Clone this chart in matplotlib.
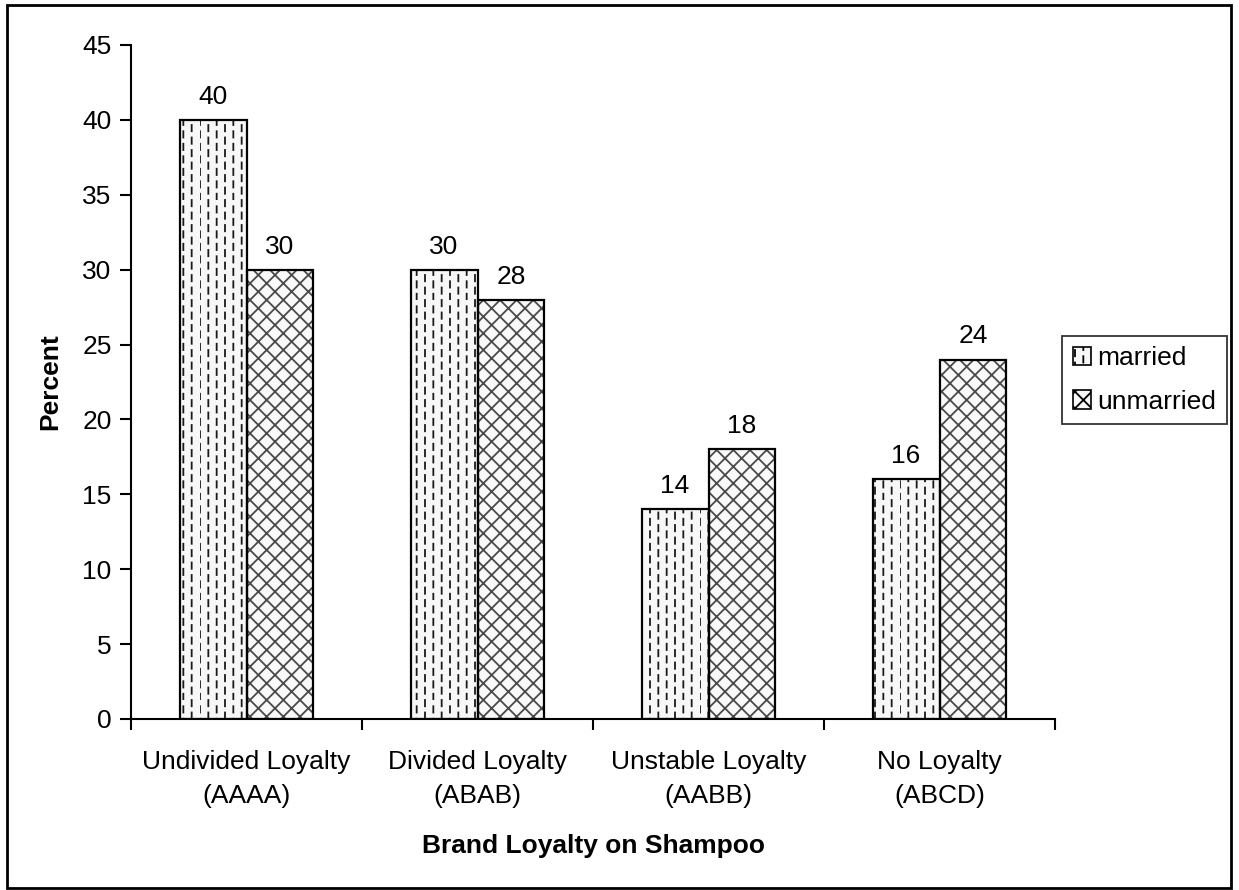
import numpy as np
import matplotlib
matplotlib.use("Agg")
import matplotlib.pyplot as plt
import matplotlib.hatch as mhatch
from matplotlib.path import Path
from matplotlib.patches import Rectangle, Patch

categories = ["Undivided Loyalty\n(AAAA)", "Divided Loyalty\n(ABAB)",
              "Unstable Loyalty\n(AABB)", "No Loyalty\n(ABCD)"]
married = [40, 30, 14, 16]
unmarried = [30, 28, 18, 24]
series_names = ["married", "unmarried"]
yticks = list(range(0, 50, 5))


class DashedVertical(mhatch.HatchPatternBase):
    """Vertical dashed hatch with staggered columns (used for '|')."""
    dashes_per_unit = 8
    dash_frac = 0.5

    def __init__(self, hatch, density):
        self.cols = int((hatch.count('|') + hatch.count('+')) * density)
        self.num_lines = self.cols * (self.dashes_per_unit + 1)
        self.num_vertices = self.num_lines * 2

    def set_vertices_and_codes(self, vertices, codes):
        if self.cols == 0:
            return
        period = 1.0 / self.dashes_per_unit
        dash = period * self.dash_frac
        k = 0
        for c in range(self.cols):
            xc = c / self.cols
            off = (period / 2) if c % 2 else 0.0
            for d in range(self.dashes_per_unit + 1):
                y0 = -period + off + d * period
                vertices[2 * k] = (xc, y0)
                vertices[2 * k + 1] = (xc, y0 + dash)
                codes[2 * k] = Path.MOVETO
                codes[2 * k + 1] = Path.LINETO
                k += 1


mhatch._hatch_types = [DashedVertical if t is mhatch.VerticalHatch else t
                       for t in mhatch._hatch_types]

plt.rcParams['font.family'] = ['Liberation Sans', 'DejaVu Sans']
plt.rcParams['hatch.linewidth'] = 1.3

fig = plt.figure(figsize=(12.39, 8.90), dpi=100)
ax = fig.add_axes([131 / 1239, 1 - 719 / 890, (1055 - 131) / 1239, (719 - 45) / 890])

x = np.arange(len(categories)) + 0.5
w = 0.29
fs = 19

# fills with hatching (hatch colour comes from edgecolor)
ax.bar(x - w / 2, married, w, facecolor='#f7f7f7', edgecolor='#1a1a1a',
       hatch='||', linewidth=0, zorder=2)
ax.bar(x + w / 2, unmarried, w, facecolor='#f9f9f9', edgecolor='#4a4a4a',
       hatch='xx', linewidth=0, zorder=2)
# black outlines on top
ax.bar(x - w / 2, married, w, fill=False, edgecolor='black', linewidth=1.6, zorder=3)
ax.bar(x + w / 2, unmarried, w, fill=False, edgecolor='black', linewidth=1.6, zorder=3)

for xi, v in zip(x - w / 2, married):
    ax.annotate(str(v), (xi, v), xytext=(0, 8), textcoords='offset points',
                ha='center', va='bottom', fontsize=fs)
for xi, v in zip(x + w / 2, unmarried):
    ax.annotate(str(v), (xi, v), xytext=(0, 8), textcoords='offset points',
                ha='center', va='bottom', fontsize=fs)

ax.set_xlim(0, len(categories))
ax.set_ylim(0, 45)
ax.set_yticks(yticks)
ax.tick_params(axis='y', direction='out', length=8, width=1.5, labelsize=fs, pad=6)
ax.set_xticks(np.arange(len(categories) + 1))
ax.set_xticklabels([])
ax.tick_params(axis='x', which='major', direction='out', length=8, width=1.5)
ax.set_xticks(x, minor=True)
ax.set_xticklabels(categories, minor=True, fontsize=fs, linespacing=1.55)
ax.tick_params(axis='x', which='minor', length=0, pad=22)

for s in ['top', 'right']:
    ax.spines[s].set_visible(False)
for s in ['left', 'bottom']:
    ax.spines[s].set_linewidth(1.5)

ax.set_ylabel("Percent", fontsize=fs, fontweight='bold', labelpad=14)
ax.set_xlabel("Brand Loyalty on Shampoo", fontsize=fs, fontweight='bold', labelpad=19)

handles = [Patch(facecolor='#f7f7f7', edgecolor='black', hatch='||', linewidth=1.2),
           Patch(facecolor='#f9f9f9', edgecolor='black', hatch='xx', linewidth=1.2)]
leg = fig.legend(handles, series_names, loc='center left',
                 bbox_to_anchor=(1062 / 1239, 1 - 380 / 890), fontsize=fs,
                 frameon=True, fancybox=False, edgecolor='black',
                 handlelength=0.7, handleheight=0.7, handletextpad=0.25,
                 borderpad=0.4, borderaxespad=0, labelspacing=0.75)
leg.get_frame().set_linewidth(1.3)

fig.patches.append(Rectangle((7 / 1239, 2 / 890), (1231 - 7) / 1239, (885 - 2) / 890,
                             transform=fig.transFigure, fill=False,
                             edgecolor='black', linewidth=2))

fig.savefig("out.png", dpi=100, facecolor='white')
